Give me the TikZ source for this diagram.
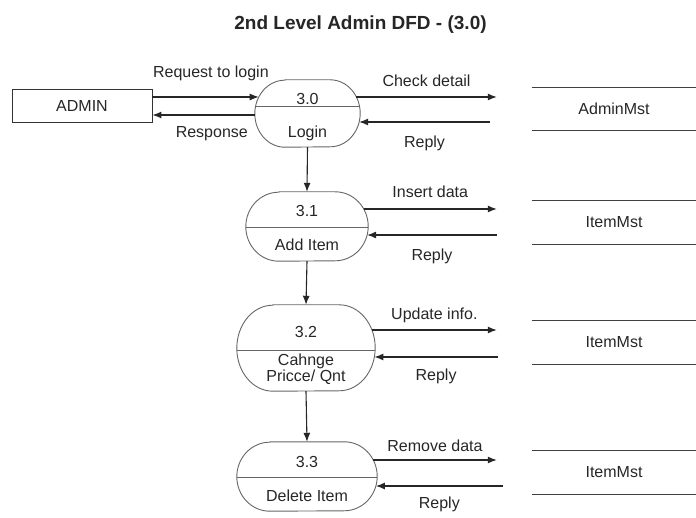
\documentclass[tikz,border=0pt]{standalone}
\usepackage{fontspec}
\setmainfont{Liberation Sans}
\usetikzlibrary{positioning,arrows.meta,calc}

% process bubble: straight top and bottom, half-ellipse ends
\newcommand{\procbubble}[5]{%
  \node[minimum width=#3pt, minimum height=#4pt, inner sep=0pt] (#1) at (#2) {};
  \draw[bubbleline] ($(#1.north west)+(#5,0)$) -- ($(#1.north east)+(-#5,0)$)
    arc[start angle=90, end angle=-90, x radius=#5pt, y radius=#4/2*1pt]
    -- ($(#1.south west)+(#5,0)$)
    arc[start angle=270, end angle=90, x radius=#5pt, y radius=#4/2*1pt] -- cycle;
}

\begin{document}
\begin{tikzpicture}[x=1pt, y=-1pt, >={Latex[length=9pt,width=7pt]},
    every node/.style={font=\fontsize{16}{14}\selectfont, text=black!85},
    bubbleline/.style={draw=black!60, line width=0.9pt},
    flow/.style={->, draw=black!85, line width=1.1pt},
    flowlbl/.style={inner sep=0pt, text height=11.5pt, text depth=3.5pt},
    entity/.style={draw=black!80, line width=0.9pt, minimum width=140pt,
      minimum height=33pt, inner sep=0pt},
    store/.style={minimum width=164pt, minimum height=43pt, inner sep=0pt},
    storeline/.style={draw=black!75, line width=1.3pt}]
  \useasboundingbox (0,0) rectangle (696,518);

  \node[font=\fontsize{19}{22}\selectfont\bfseries, anchor=base] (title)
    at (360.5,30) {2nd Level Admin DFD - (3.0)};

  % external entity
  \node[entity] (admin) at (82,105.5) {ADMIN};

  % processes
  \procbubble{p30}{307.5,113.5}{105}{67}{30}
  \procbubble{p31}{307,226.5}{122}{69}{33}
  \procbubble{p32}{306,348}{138}{86}{36}
  \procbubble{p33}{307,476.5}{140}{69}{33}

  \foreach \p/\d in {p30/-7.5,p31/0.5,p32/2,p33/0.5}
    \draw[bubbleline] ($(\p.west)+(0,\d)$) -- ($(\p.east)+(0,\d)$);

  \node (n30) at (307.5,99) {3.0};
  \node (t30) at (307.5,133) {Login};
  \node (n31) at (307,211) {3.1};
  \node (t31) at (307,245) {Add Item};
  \node (n32) at (306,332) {3.2};
  \node[align=center] (t32) at (306,369) {Cahnge\\Pricce/ Qnt};
  \node (n33) at (307,462) {3.3};
  \node (t33) at (307,496) {Delete Item};

  % data stores
  \node[store] (ds0) at (614,109) {AdminMst};
  \node[store] (ds1) at (614,222.5) {ItemMst};
  \node[store] (ds2) at (614,342.5) {ItemMst};
  \node[store] (ds3) at (614,472.5) {ItemMst};
  \foreach \s in {ds0,ds1,ds2,ds3}
    \draw[storeline] (\s.north west) -- (\s.north east)
      (\s.south west) -- (\s.south east);

  % admin <-> login
  \draw[flow] ($(admin.east)+(0,-8.5)$) -- node[flowlbl, above=15.5pt, pos=0.55]
    (l0) {Request to login} ($(p30.west)+(3.9,-16.5)$);
  \draw[flow] ($(p30.west)+(0,1.5)$) -- node[flowlbl, below=10.5pt, pos=0.42]
    (l1) {Response} ($(admin.east)+(0,9.5)$);

  % processes <-> stores
  \draw[flow] ($(p30.east)+(-3.9,-16.5)$) -- node[flowlbl, above=6.5pt]
    (l2) {Check detail} ($(ds0.west)+(-35,-12)$);
  \draw[flow] ($(ds0.west)+(-42,13)$) -- node[flowlbl, below=13pt]
    (l3) {Reply} ($(p30.east)+(-1,8.5)$);

  \draw[flow] ($(p31.east)+(-4.5,-17.5)$) -- node[flowlbl, above=7pt]
    (l4) {Insert data} ($(ds1.west)+(-35,-13.5)$);
  \draw[flow] ($(ds1.west)+(-35,12.5)$) -- node[flowlbl, below=13.5pt]
    (l5) {Reply} ($(p31.east)+(-1.1,8.5)$);

  \draw[flow] ($(p32.east)+(-3.3,-18)$) -- node[flowlbl, above=6.5pt]
    (l6) {Update info.} ($(ds2.west)+(-35,-12.5)$);
  \draw[flow] ($(ds2.west)+(-34,14.5)$) -- node[flowlbl, below=11.5pt]
    (l7) {Reply} ($(p32.east)+(-0.8,9)$);

  \draw[flow] ($(p33.east)+(-4,-16.5)$) -- node[flowlbl, above=4pt]
    (l8) {Remove data} ($(ds3.west)+(-35,-12.5)$);
  \draw[flow] ($(ds3.west)+(-29,13.5)$) -- node[flowlbl, below=10.5pt]
    (l9) {Reply} ($(p33.east)+(-1.3,9.5)$);

  % process chain
  \draw[flow] (p30.south) -- (p31.north);
  \draw[flow] (p31.south) -- (p32.north);
  \draw[flow] (p32.south) -- (p33.north);
\end{tikzpicture}
\end{document}
